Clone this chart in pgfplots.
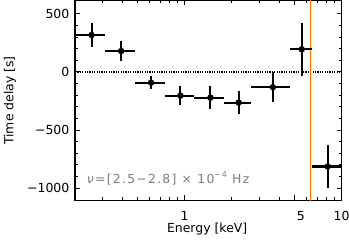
\documentclass[border=0pt]{standalone}
\usepackage{fontspec}
\setmainfont{DejaVu Sans}
\newfontfamily\annfont[LetterSpace=10]{DejaVu Sans}
\usepackage{pgfplots}
\usepackage{pgfplotstable}
\pgfplotsset{compat=1.18}
\definecolor{feline}{RGB}{245,125,10}
\definecolor{anngray}{RGB}{125,125,125}

\pgfplotstableread{
x     y     exm    exp    ey
0.255 318   0.055  0.055  103
0.394 180   0.084  0.086  90
0.611 -92   0.131  0.134  57
0.94  -204  0.195  0.20   79
1.46  -221  0.32   0.31   100
2.21  -264  0.44   0.44   97
3.65  -132  1.00   1.05   130
5.58  195   0.88   0.94   227
8.17  -814  1.67   1.83   186
}\lagdata

\begin{document}
\begin{tikzpicture}
\useasboundingbox (-75bp,-42.3bp) rectangle (274bp,200.5bp);
\begin{axis}[
  scale only axis, width=266.5bp, height=200bp,
  at={(0,0)}, anchor=south west,
  xmode=log, xmin=0.2, xmax=10, ymin=-1107, ymax=615,
  xtick={1,5,10}, xticklabels={1,{\hspace*{13bp}5},10},
  minor xtick={0.3,0.4,0.5,0.6,0.7,0.8,0.9,2,3,4,6,7,8,9},
  ytick={-1000,-500,0,500}, yticklabels={−1000,−500,0,500},
  minor y tick num=4,
  tick align=inside,
  major tick length=5bp, minor tick length=3bp,
  tick style={black, line width=1bp},
  axis line style={line width=1.6bp},
  tick label style={font=\fontsize{12.5}{14}\selectfont},
  xticklabel style={anchor=base, yshift=-19.5bp, inner sep=0pt},
  yticklabel style={anchor=east, inner sep=0pt, xshift=-5.5bp},
  xlabel={Energy [keV]}, ylabel={Time delay [s]},
  label style={font=\fontsize{12.5}{14}\selectfont},
  xlabel style={at={(axis description cs:0.496,0)}, anchor=base, yshift=-32bp},
  ylabel style={at={(axis description cs:-0.244,0.5)}, anchor=center},
]
\addplot[black, line width=1.4bp, dash pattern=on 1.2bp off 1.2bp] coordinates {(0.2,0) (10,0)};
\addplot[color=feline, line width=1.05bp] coordinates {(6.345,-1107) (6.345,615)};
\addplot[black, only marks, mark=*, mark size=3bp,
  error bars/.cd, x dir=both, x explicit, y dir=both, y explicit,
  error bar style={line width=2.1bp, black}, error mark=none]
  table[x=x, y=y, x error minus=exm, x error plus=exp, y error=ey] {\lagdata};
\node[anchor=base west, text=anngray, font=\annfont\fontsize{12.5}{14}\selectfont, inner sep=0pt]
  at (rel axis cs:0.044,0.087) {\textit{ν}=[2.5−2.8] × 10\raisebox{0.45em}{\fontsize{8}{9}\selectfont −4} Hz};
\end{axis}
\end{tikzpicture}
\end{document}
